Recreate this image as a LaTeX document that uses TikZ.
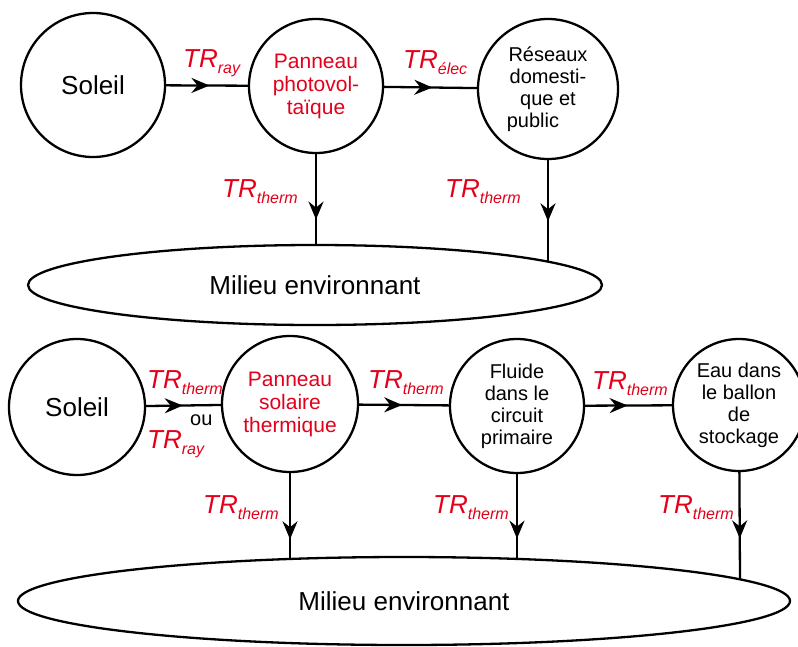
\documentclass[tikz,border=0pt]{standalone}
\usepackage{fontspec}
\setmainfont{Liberation Sans}
\usetikzlibrary{arrows.meta,shapes.geometric,decorations.markings}
\definecolor{trred}{RGB}{226,0,26}
\newcommand{\trlab}[1]{\textit{TR}\raisebox{-6pt}{\fontsize{16}{16}\selectfont\textit{#1}}}
\tikzset{
  disc/.style={circle, draw, line width=2.3pt, minimum size=#1, inner sep=0pt, align=center},
  milieu/.style={ellipse, draw, line width=2.3pt, inner sep=0pt, font=\fontsize{26}{28}\selectfont},
  flow/.style={line width=2.3pt, postaction={decorate}, decoration={markings,
      mark=at position #1 with {\arrow{Stealth[length=18pt,width=15pt,inset=6pt]}}}},
  tr/.style={anchor=base west, inner sep=0pt, text=trred, font=\fontsize{26}{28}\selectfont}
}
\begin{document}
\begin{tikzpicture}[x=1pt, y=-1pt]
\useasboundingbox (0,0) rectangle (798,646);

% photovoltaique
\node[disc=144pt, font=\fontsize{26}{28}\selectfont] (sol1) at (93,85) {Soleil};
\node[disc=134pt, text=trred, font=\fontsize{21}{23}\selectfont] (pv) at (316,86) {Panneau\\photovol-\\taïque};
\node[disc=140pt, font=\fontsize{20}{22}\selectfont] (res) at (548,89) {Réseaux\\domesti-\\que et\\public\hspace*{1.5em}};
\node[milieu, minimum width=574pt, minimum height=80pt] (env1) at (315,285) {Milieu environnant};
\coordinate (e1) at (316,245);
\coordinate (e2) at (548,262);

\draw[flow=0.53] (sol1) -- (pv);
\draw[flow=0.52] (pv) -- (res);
\draw[flow=0.72] (pv) -- (e1);
\draw[flow=0.60] (res) -- (e2);

\node[tr] (lray1) at (183,67) {\trlab{ray}};
\node[tr] (lelec) at (403,68) {\trlab{élec}};
\node[tr] (lth1) at (222,197) {\trlab{therm}};
\node[tr] (lth2) at (445,197) {\trlab{therm}};

% solaire thermique
\node[disc=136pt, font=\fontsize{26}{28}\selectfont] (sol2) at (77,407) {Soleil};
\node[disc=136pt, text=trred, font=\fontsize{21}{23}\selectfont] (pst) at (290,404) {Panneau\\solaire\\thermique};
\node[disc=134pt, font=\fontsize{20}{22}\selectfont] (flu) at (517,406) {Fluide\\dans le\\circuit\\primaire};
\node[disc=132pt, font=\fontsize{20}{22}\selectfont] (eau) at (739,405) {Eau dans\\le ballon\\de\\stockage};
\node[milieu, minimum width=772pt, minimum height=88pt] (env2) at (404,601) {Milieu environnant};
\coordinate (e3) at (290,559);
\coordinate (e4) at (517,559);
\coordinate (e5) at (740,579);

\draw[flow=0.49] (sol2) -- (pst);
\draw[flow=0.48] (pst) -- (flu);
\draw[flow=0.49] (flu) -- (eau);
\draw[flow=0.77] (pst) -- (e3);
\draw[flow=0.76] (flu) -- (e4);
\draw[flow=0.62] (eau) -- (e5);

\node[tr] (lth3) at (147,388) {\trlab{therm}};
\node[anchor=base west, inner sep=0pt, font=\fontsize{20}{22}\selectfont] (lou) at (190,425) {ou};
\node[tr] (lray2) at (147,448) {\trlab{ray}};
\node[tr] (lth4) at (368,388) {\trlab{therm}};
\node[tr] (lth5) at (592,389) {\trlab{therm}};
\node[tr] (lth6) at (203,513) {\trlab{therm}};
\node[tr] (lth7) at (433,513) {\trlab{therm}};
\node[tr] (lth8) at (658,513) {\trlab{therm}};
\end{tikzpicture}
\end{document}
